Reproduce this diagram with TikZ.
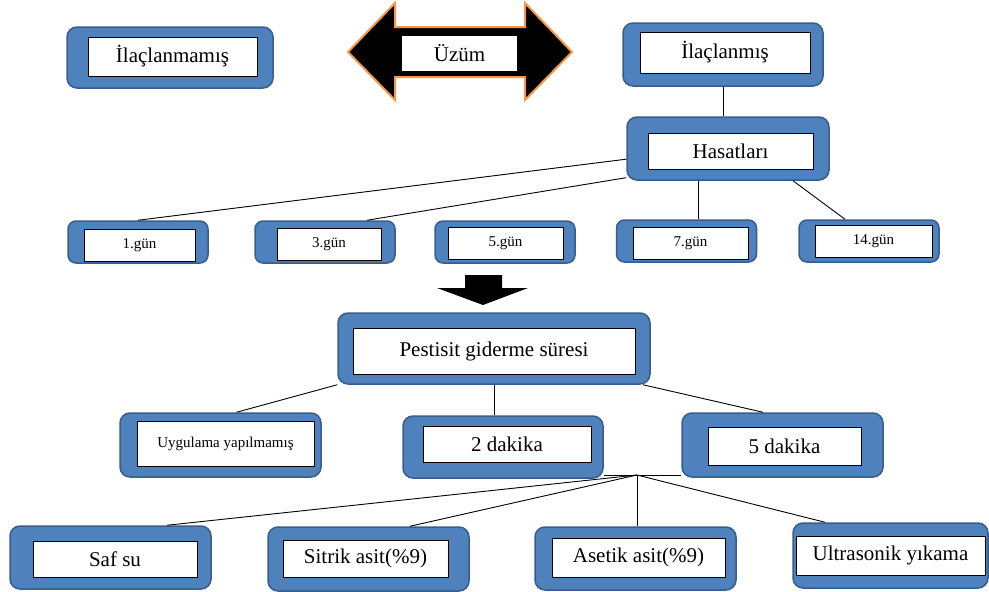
\documentclass[tikz,border=0pt]{standalone}
\usepackage{fontspec}
\setmainfont{Liberation Serif}
\definecolor{mavi}{RGB}{79,129,189}
\definecolor{kenar}{RGB}{56,93,138}
\definecolor{turuncu}{RGB}{247,150,70}
\tikzset{
    dis/.style={draw=kenar, line width=1.5pt, fill=mavi, rounded corners=10pt},
    ic/.style={draw=black, line width=1pt, fill=white, inner sep=0pt},
    buyuk/.style={font=\fontsize{21}{24}\selectfont},
    kucuk/.style={font=\fontsize{15}{18}\selectfont},
    cizgi/.style={draw=black, line width=0.9pt}
}
\begin{document}
\begin{tikzpicture}[x=1pt, y=-1pt]
\useasboundingbox (0,0) rectangle (989,592);

\draw[turuncu, line width=2pt, fill=black] (348,52)--(395,3)--(395,27)--(525,27)--(525,3)--(572,52)--(525,100)--(525,77)--(395,77)--(395,100)--cycle;
\node[fill=white, inner sep=0pt, minimum width=115pt, minimum height=35pt, buyuk] (uzum) at (459.5,53.5) {Üzüm};

\node[dis, minimum width=206pt, minimum height=61pt] (ilacsiz) at (170,57.5) {};
\node[ic, buyuk, minimum width=169pt, minimum height=39pt] (ilacsiz-y) at (172.5,56.5) {İlaçlanmamış};

\node[dis, minimum width=200pt, minimum height=63pt] (ilacli) at (723,54.5) {};
\node[ic, buyuk, minimum width=170pt, minimum height=41pt] (ilacli-y) at (725,52.5) {İlaçlanmış};

\node[dis, minimum width=202pt, minimum height=63pt] (hasat) at (728,148.5) {};
\node[ic, buyuk, minimum width=165pt, minimum height=36pt] (hasat-y) at (730.5,151) {Hasatları};

\foreach \ad/\x/\y/\ix/\iy/\iw/\yazi in {gun1/138/242/139.5/245/111/1.gün, gun3/325/242/329/244/104/3.gün, gun5/505/242/505.5/243/115/5.gün, gun7/686.5/241/690.5/243/115/7.gün, gun14/869/241/873.5/241/117/14.gün}
{
    \node[dis, rounded corners=8pt, minimum width=140pt, minimum height=42pt] (\ad) at (\x,\y) {};
    \node[ic, kucuk, minimum width=\iw pt, minimum height=32pt] (\ad-y) at (\ix,\iy) {\yazi};
}

\fill (465,275)--(502,275)--(502,288)--(528,288)--(483,305)--(437,288)--(465,288)--cycle;

\node[dis, minimum width=312pt, minimum height=71pt] (pest) at (494,348.5) {};
\node[ic, buyuk, minimum width=282pt, minimum height=46pt] (pest-y) at (494,351) {Pestisit giderme süresi};

\node[dis, minimum width=201pt, minimum height=64pt] (uyg) at (220.5,445) {};
\node[ic, kucuk, minimum width=177pt, minimum height=45pt] (uyg-y) at (225.5,443.5) {Uygulama yapılmamış};

\node[dis, minimum width=200pt, minimum height=62pt] (dk2) at (503,447) {};
\node[ic, buyuk, minimum width=168pt, minimum height=36pt] (dk2-y) at (507,444) {2 dakika};

\node[dis, minimum width=201pt, minimum height=64pt] (dk5) at (782.5,445) {};
\node[ic, buyuk, minimum width=153pt, minimum height=38pt] (dk5-y) at (784.5,446) {5 dakika};

\node[dis, minimum width=201pt, minimum height=63pt] (safsu) at (110.5,557.5) {};
\node[ic, buyuk, minimum width=164pt, minimum height=36pt] (safsu-y) at (115,559) {Saf su};

\node[dis, minimum width=201pt, minimum height=64pt] (sitrik) at (368.5,559) {};
\node[ic, buyuk, minimum width=165pt, minimum height=37pt] (sitrik-y) at (365.5,558.5) {Sitrik asit(\%9)};

\node[dis, minimum width=201pt, minimum height=63pt] (asetik) at (635.5,558.5) {};
\node[ic, buyuk, minimum width=173pt, minimum height=39pt] (asetik-y) at (638.5,557.5) {Asetik asit(\%9)};

\node[dis, minimum width=195pt, minimum height=65pt] (ultra) at (890.5,555.5) {};
\node[ic, buyuk, minimum width=189pt, minimum height=39pt] (ultra-y) at (890.5,555.5) {Ultrasonik yıkama};

\draw[cizgi] (ilacli.south) -- (ilacli.south |- hasat.north);
\draw[cizgi] (hasat.186) -- (gun1.north);
\draw[cizgi] (hasat.196) -- ([xshift=42pt]gun3.north);
\draw[cizgi] ([xshift=12pt]gun7.north) -- ([xshift=12pt]gun7.north |- hasat.south);
\draw[cizgi] ([xshift=65pt]hasat.south) -- ([xshift=-24pt]gun14.north);

\draw[cizgi] (pest.south west) -- ([xshift=16pt]uyg.north);
\draw[cizgi] (pest.south) -- (pest.south |- dk2.north);
\draw[cizgi] ([xshift=149pt]pest.south) -- ([xshift=-19.5pt]dk5.north);

\coordinate (birlesim) at (637,475);
\draw[cizgi] (dk2.east |- birlesim) -- (dk5.west |- birlesim);
\draw[cizgi] (birlesim) -- ([xshift=56.5pt]safsu.north);
\draw[cizgi] (birlesim) -- ([xshift=41.5pt]sitrik.north);
\draw[cizgi] (birlesim) -- (birlesim |- asetik.north);
\draw[cizgi] (birlesim) -- ([xshift=-65.5pt]ultra.north);
\end{tikzpicture}
\end{document}
